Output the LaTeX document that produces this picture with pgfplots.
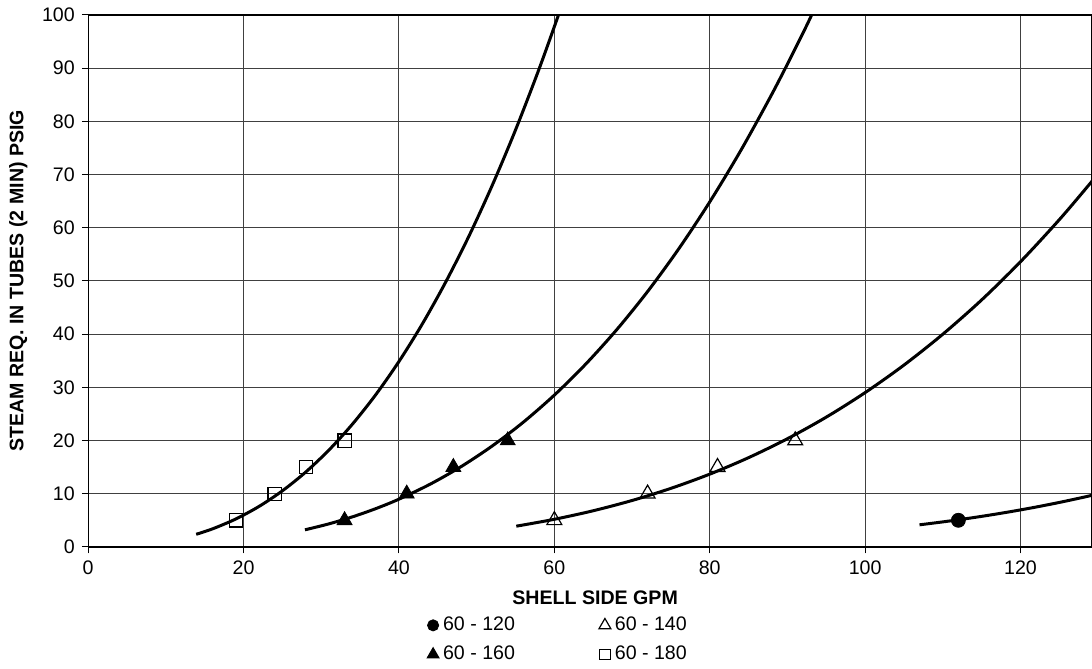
\documentclass[border=0pt]{standalone}
\usepackage{fontspec}
\setmainfont{Liberation Sans}
\usepackage{pgfplots}
\pgfplotsset{compat=1.18}

\pgfplotstableread{
x y
13.9 2.369
16 3.389
19 5.247
22 7.619
25 10.547
28 14.071
31 18.229
34 23.06
37 28.59
40 34.86
43 41.90
46 49.75
49 58.41
52 67.96
55 78.38
58 89.72
60.5 99.88
61.5 104.2
}\fitA
\pgfplotstableread{
x y
27.9 3.211
31 4.337
34 5.644
37 7.185
40 8.975
44 11.780
48 15.097
52 18.973
56 23.44
60 28.54
64 34.31
68 40.79
72 48.01
76 56.02
80 64.86
84 74.54
88 85.13
91 93.67
93.1 99.96
94 103.4
}\fitB
\pgfplotstableread{
x y
55.1 3.895
60 5.190
65 6.796
70 8.724
75 11.005
80 13.679
85 16.78
90 20.34
95 24.40
100 29.01
105 34.19
110 39.99
115 46.44
120 53.62
125 61.53
129 68.40
130 70.2
}\fitC
\pgfplotstableread{
x y
107 4.152
110 4.703
113 5.308
116 5.972
119 6.700
122 7.494
125 8.360
128 9.301
130 9.973
}\fitD

\begin{document}
\begin{tikzpicture}[font=\fontsize{9.8pt}{11.8pt}\selectfont]
\begin{axis}[
    scale only axis,
    width=502pt, height=266pt,
    xmin=0, xmax=129.2, ymin=0, ymax=100,
    xtick distance=20, ytick distance=10,
    /pgf/number format/assume math mode=true,
    tick pos=left, tick align=outside,
    major tick length=3.2pt,
    tick style={black, line width=0.5pt},
    grid=major,
    grid style={black!75, line width=0.5pt},
    axis line style={black, line width=0.6pt},
    xlabel={\bfseries SHELL SIDE GPM},
    ylabel={\bfseries STEAM REQ. IN TUBES (2 MIN) PSIG},
    xlabel style={at={(axis description cs:0.505,-0.096)}, anchor=center},
    ylabel style={at={(axis description cs:-0.0697,0.5)}, anchor=center},
    legend columns=2,
    legend style={draw=none, fill=none, at={(axis description cs:0.469,-0.116)}, anchor=north,
        row sep=2.2pt,
        /tikz/every even column/.append style={column sep=40pt}},
    legend cell align=left,
    legend image code/.code={\draw[mark repeat=2,mark phase=2,#1,/tikz/every mark/.append style={scale=0.8}]
        plot coordinates {(0pt,0pt)(1pt,0pt)(2pt,0pt)};},
]
\addplot[black, line width=1.5pt, smooth, forget plot] table {\fitA};
\addplot[black, line width=1.5pt, smooth, forget plot] table {\fitB};
\addplot[black, line width=1.5pt, smooth, forget plot] table {\fitC};
\addplot[black, line width=1.5pt, smooth, forget plot] table {\fitD};

\addplot[only marks, mark=*, mark size=3.5pt, black] coordinates {(112,5)};
\addplot[only marks, mark=triangle, mark size=4.3pt, black, mark options={line width=0.6pt}] coordinates {(60,5) (72,10) (81,15) (91,20)};
\addplot[only marks, mark=triangle*, mark size=4.3pt, black] coordinates {(33,5) (41,10) (47,15) (54,20)};
\addplot[only marks, mark=square, mark size=3.3pt, black, mark options={line width=0.6pt}] coordinates {(19,5) (24,10) (28,15) (33,20)};
\legend{60 - 120, 60 - 140, 60 - 160, 60 - 180}
\end{axis}
\pgfresetboundingbox
\path[use as bounding box] (current axis.south west) ++(-44.1pt,-61pt) rectangle ([yshift=7.5pt]current axis.north east);
\end{tikzpicture}
\end{document}
